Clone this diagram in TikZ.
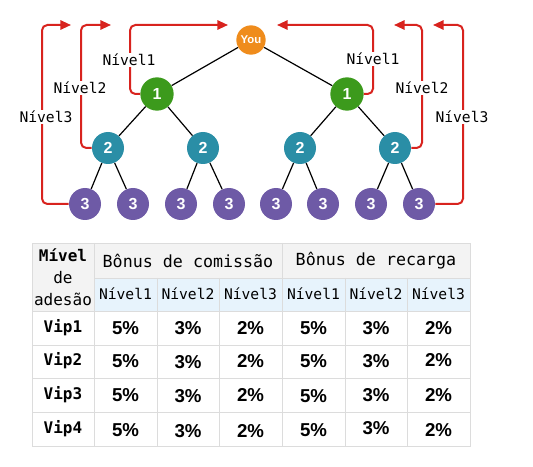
\documentclass[tikz,border=0pt]{standalone}
\usepackage{fontspec}
\usepackage{xcolor}
\usepackage{tikz}
\usetikzlibrary{arrows.meta}
\newfontfamily\monofont{DejaVu Sans Mono}
\newfontfamily\arialfont{Liberation Sans}
\definecolor{youorange}{HTML}{EF8C1C}
\definecolor{lvlgreen}{HTML}{3C9A1C}
\definecolor{lvlteal}{HTML}{2A8EA6}
\definecolor{lvlpurple}{HTML}{6E5AA6}
\definecolor{arrowred}{HTML}{D8231E}
\definecolor{headgray}{HTML}{F3F3F3}
\definecolor{headblue}{HTML}{E7F3FC}
\definecolor{gridgray}{HTML}{DCDCDC}

\begin{document}
\begin{tikzpicture}[x=0.75pt,y=0.75pt,yscale=-1,xscale=1,
  member/.style={circle,inner sep=0pt,minimum size=24pt,text=white,font=\arialfont\bfseries\fontsize{12}{12}\selectfont},
  edge/.style={line width=0.9pt,black},
  redarrow/.style={line width=1.5pt,arrowred,rounded corners=4pt,-{Triangle[length=8pt,width=7pt]}},
  lvllabel/.style={fill=white,inner sep=1pt,font=\monofont\fontsize{11}{11}\selectfont},
  grid/.style={gridgray,line width=0.6pt},
  cell/.style={font=\monofont\fontsize{11}{11}\selectfont},
  vipcell/.style={font=\monofont\bfseries\fontsize{12}{12}\selectfont},
  pct/.style={font=\arialfont\bfseries\fontsize{14}{14}\selectfont}]
\useasboundingbox (0,0) rectangle (533,467);

%Shape: Circle [you]
\node[member,fill=youorange,minimum size=22pt,font=\arialfont\bfseries\fontsize{8.5}{8.5}\selectfont] (you) at (251,40) {You};
%Shape: Circle [level 1]
\node[member,fill=lvlgreen,minimum size=25pt] (n1a) at (157,94) {1};
\node[member,fill=lvlgreen,minimum size=25pt] (n1b) at (347,94) {1};
%Shape: Circle [level 2]
\node[member,fill=lvlteal] (n2a) at (108,148) {2};
\node[member,fill=lvlteal] (n2b) at (203,148) {2};
\node[member,fill=lvlteal] (n2c) at (300,148) {2};
\node[member,fill=lvlteal] (n2d) at (395,148) {2};
%Shape: Circle [level 3]
\node[member,fill=lvlpurple] (n3a) at (85,204) {3};
\node[member,fill=lvlpurple] (n3b) at (133,204) {3};
\node[member,fill=lvlpurple] (n3c) at (181,204) {3};
\node[member,fill=lvlpurple] (n3d) at (229,204) {3};
\node[member,fill=lvlpurple] (n3e) at (276,204) {3};
\node[member,fill=lvlpurple] (n3f) at (323,204) {3};
\node[member,fill=lvlpurple] (n3g) at (371,204) {3};
\node[member,fill=lvlpurple] (n3h) at (419,204) {3};

%Straight Lines [tree]
\draw[edge] (you) -- (n1a);
\draw[edge] (you) -- (n1b);
\draw[edge] (n1a) -- (n2a);
\draw[edge] (n1a) -- (n2b);
\draw[edge] (n1b) -- (n2c);
\draw[edge] (n1b) -- (n2d);
\draw[edge] (n2a) -- (n3a);
\draw[edge] (n2a) -- (n3b);
\draw[edge] (n2b) -- (n3c);
\draw[edge] (n2b) -- (n3d);
\draw[edge] (n2c) -- (n3e);
\draw[edge] (n2c) -- (n3f);
\draw[edge] (n2d) -- (n3g);
\draw[edge] (n2d) -- (n3h);

%Arrows [left]
\coordinate (cL1) at (130,25);
\coordinate (tL1) at (228,25);
\coordinate (cL2) at (81,25);
\coordinate (tL2) at (111,25);
\coordinate (cL3) at (42,25);
\coordinate (tL3) at (71,25);
\draw[redarrow] (n1a.west) -| (cL1) -- (tL1);
\draw[redarrow] (n2a.west) -| (cL2) -- (tL2);
\draw[redarrow] (n3a.west) -| (cL3) -- (tL3);
%Arrows [right]
\coordinate (cR1) at (373,25);
\coordinate (tR1) at (277,25);
\coordinate (cR2) at (422,25);
\coordinate (tR2) at (394,25);
\coordinate (cR3) at (463,25);
\coordinate (tR3) at (433,25);
\draw[redarrow] (n1b.east) -| (cR1) -- (tR1);
\draw[redarrow] (n2d.east) -| (cR2) -- (tR2);
\draw[redarrow] (n3h.east) -| (cR3) -- (tR3);

% Text Node
\node[lvllabel] (labL1) at (129,60) {Nível1};
% Text Node
\node[lvllabel] (labL2) at (80,88) {Nível2};
% Text Node
\node[lvllabel] (labL3) at (46,117) {Nível3};
% Text Node
\node[lvllabel] (labR1) at (373,59) {Nível1};
% Text Node
\node[lvllabel] (labR2) at (422,88) {Nível2};
% Text Node
\node[lvllabel] (labR3) at (462,117) {Nível3};

%Shape: Rectangle [table fills]
\fill[headgray] (32,243) rectangle (470,278);
\fill[headgray] (32,278) rectangle (94,311);
\fill[headblue] (94,278) rectangle (470,311);
%Straight Lines [table grid]
\draw[grid] (32,243) rectangle (470,446);
\draw[grid] (94,278) -- (470,278);
\draw[grid] (32,311) -- (470,311);
\draw[grid] (32,345) -- (470,345);
\draw[grid] (32,378) -- (470,378);
\draw[grid] (32,412) -- (470,412);
\draw[grid] (94,243) -- (94,446);
\draw[grid] (282,243) -- (282,446);
\draw[grid] (157,278) -- (157,446);
\draw[grid] (219,278) -- (219,446);
\draw[grid] (345,278) -- (345,446);
\draw[grid] (407,278) -- (407,446);

% Text Node
\node[align=center,inner sep=0pt,font=\monofont\fontsize{12}{16.5}\selectfont] (hlevel) at (63,277) {\textbf{Mível}\\de\\adesão};
% Text Node
\node[font=\monofont\fontsize{12.5}{12.5}\selectfont] (hcom) at (188,261) {Bônus de comissão};
% Text Node
\node[font=\monofont\fontsize{12.5}{12.5}\selectfont] (hrec) at (376,261) {Bônus de recarga};
% Text Node
\node[cell] (s1) at (125.5,294) {Nível1};
\node[cell] (s2) at (188,294) {Nível2};
\node[cell] (s3) at (250.5,294) {Nível3};
\node[cell] (s4) at (313.5,294) {Nível1};
\node[cell] (s5) at (376,294) {Nível2};
\node[cell] (s6) at (438.5,294) {Nível3};

% Text Node [Vip1]
\node[vipcell] (v1) at (63,328) {Vip1};
\node[pct] (v1a) at (125.5,328) {5\%};
\node[pct] (v1b) at (188,328) {3\%};
\node[pct] (v1c) at (250.5,328) {2\%};
\node[pct] (v1d) at (313.5,328) {5\%};
\node[pct] (v1e) at (376,328) {3\%};
\node[pct] (v1f) at (438.5,328) {2\%};
% Text Node [Vip2]
\node[vipcell] (v2) at (63,361) {Vip2};
\node[pct] (v2a) at (125.5,361) {5\%};
\node[pct] (v2b) at (188,362) {3\%};
\node[pct] (v2c) at (250.5,361) {2\%};
\node[pct] (v2d) at (313.5,361) {5\%};
\node[pct] (v2e) at (376,361) {3\%};
\node[pct] (v2f) at (438.5,360) {2\%};
% Text Node [Vip3]
\node[vipcell] (v3) at (63,395) {Vip3};
\node[pct] (v3a) at (125.5,395) {5\%};
\node[pct] (v3b) at (188,396) {3\%};
\node[pct] (v3c) at (250.5,395) {2\%};
\node[pct] (v3d) at (313.5,396) {5\%};
\node[pct] (v3e) at (376,395) {3\%};
\node[pct] (v3f) at (438.5,395) {2\%};
% Text Node [Vip4]
\node[vipcell] (v4) at (63,429) {Vip4};
\node[pct] (v4a) at (125.5,430) {5\%};
\node[pct] (v4b) at (188,431) {3\%};
\node[pct] (v4c) at (250.5,431) {2\%};
\node[pct] (v4d) at (313.5,430) {5\%};
\node[pct] (v4e) at (376,428) {3\%};
\node[pct] (v4f) at (438.5,430) {2\%};

\end{tikzpicture}
\end{document}
